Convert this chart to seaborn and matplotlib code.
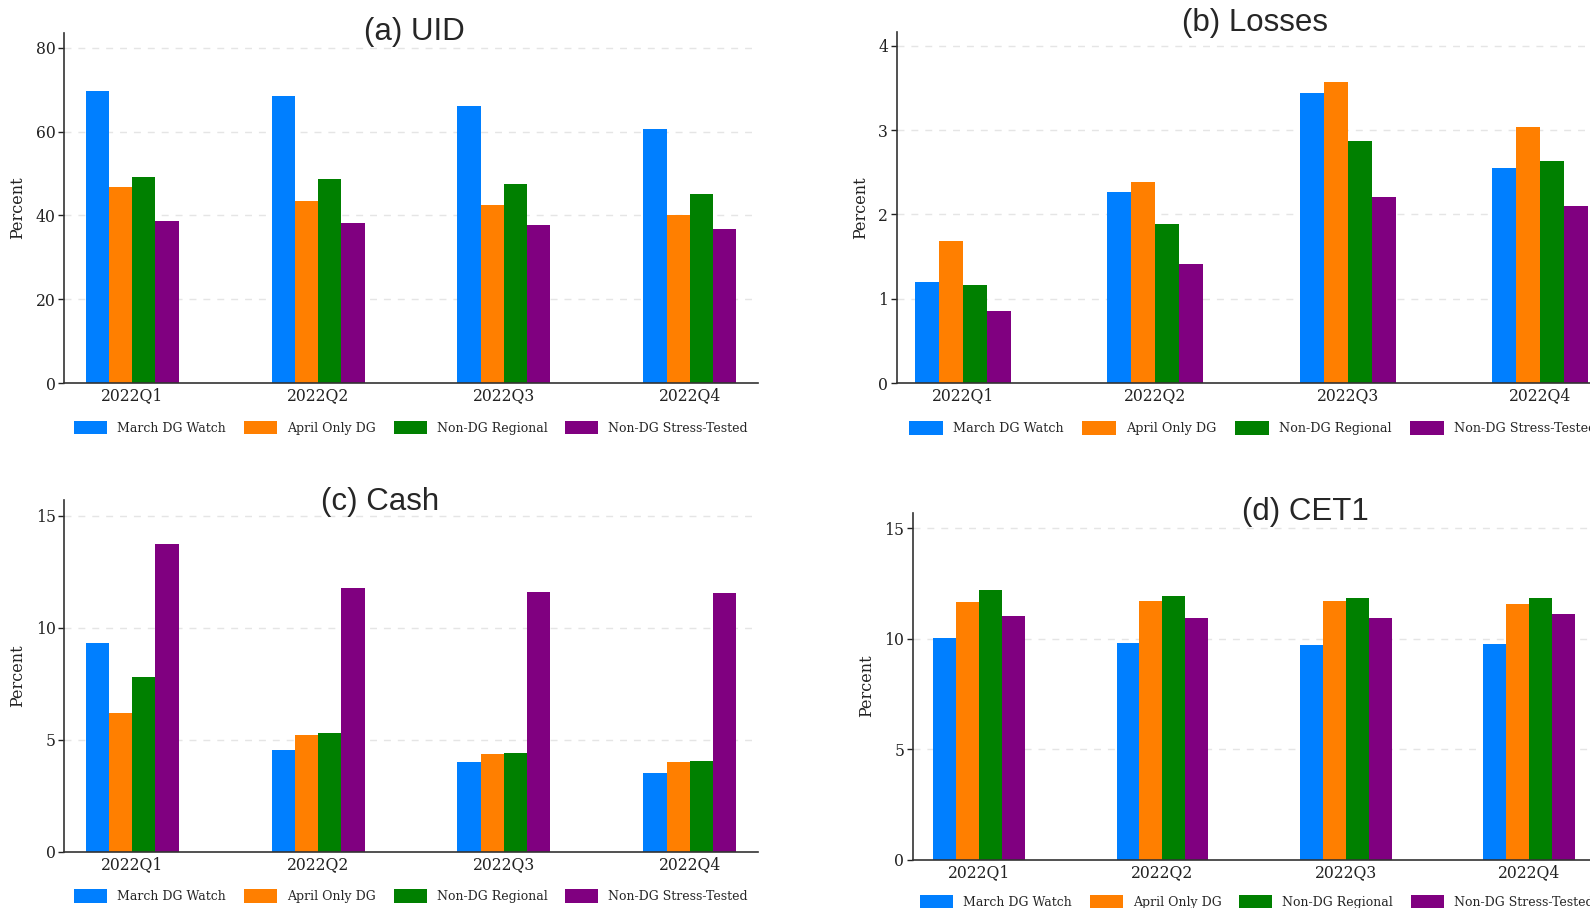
import matplotlib
matplotlib.use("Agg")
import matplotlib.pyplot as plt
import seaborn as sns
import pandas as pd

quarters = ["2022Q1", "2022Q2", "2022Q3", "2022Q4"]
groups = ["March DG Watch", "April Only DG", "Non-DG Regional", "Non-DG Stress-Tested"]
colors = ["#007FFF", "#FF7F00", "#008000", "#800080"]

# (a) UID
uid_march = [69.8, 68.6, 66.1, 60.7]
uid_april = [46.7, 43.5, 42.5, 40.1]
uid_regional = [49.1, 48.7, 47.6, 45.2]
uid_stress = [38.7, 38.1, 37.7, 36.7]

# (b) Losses
loss_march = [1.20, 2.27, 3.44, 2.55]
loss_april = [1.69, 2.39, 3.57, 3.04]
loss_regional = [1.16, 1.89, 2.87, 2.63]
loss_stress = [0.855, 1.41, 2.21, 2.10]

# (c) Cash
cash_march = [9.31, 4.54, 4.01, 3.53]
cash_april = [6.22, 5.23, 4.37, 4.00]
cash_regional = [7.80, 5.30, 4.43, 4.04]
cash_stress = [13.75, 11.78, 11.61, 11.57]

# (d) CET1
cet1_march = [10.03, 9.82, 9.73, 9.76]
cet1_april = [11.65, 11.71, 11.69, 11.56]
cet1_regional = [12.22, 11.95, 11.83, 11.86]
cet1_stress = [11.03, 10.92, 10.96, 11.14]

titles = ["(a) UID", "(b) Losses", "(c) Cash", "(d) CET1"]
yticks = [[0, 20, 40, 60, 80], [0, 1, 2, 3, 4], [0, 5, 10, 15], [0, 5, 10, 15]]


def long_frame(series):
    rows = []
    for g, vals in zip(groups, series):
        for q, v in zip(quarters, vals):
            rows.append({"Quarter": q, "Group": g, "Value": v})
    return pd.DataFrame(rows)


panels = [
    long_frame([uid_march, uid_april, uid_regional, uid_stress]),
    long_frame([loss_march, loss_april, loss_regional, loss_stress]),
    long_frame([cash_march, cash_april, cash_regional, cash_stress]),
    long_frame([cet1_march, cet1_april, cet1_regional, cet1_stress]),
]

sns.set_theme(style="white")
plt.rcParams["font.family"] = ["DejaVu Serif"]

W, H = 1590, 908
fig = plt.figure(figsize=(W / 100, H / 100), dpi=100)


def frac_rect(x0, x1, ytop, ybot):
    return [x0 / W, 1 - ybot / H, (x1 - x0) / W, (ybot - ytop) / H]


layout = [
    dict(rect=frac_rect(64, 758, 32.5, 383), xlim=(-0.366, 3.366), ylim=(0, 83.7),
         ylab=-0.054, leg=(0.5, -0.128), lfs=9, title=(414, 32)),
    dict(rect=frac_rect(896.5, 1615, 31.5, 383), xlim=(-0.345, 3.39), ylim=(0, 4.17),
         ylab=-0.038, leg=(0.496, -0.128), lfs=9.2, title=(1255, 23)),
    dict(rect=frac_rect(64, 758, 500, 852), xlim=(-0.366, 3.366), ylim=(0, 15.7),
         ylab=-0.054, leg=(0.5, -0.126), lfs=9, title=(380, 502)),
    dict(rect=frac_rect(912.6, 1597, 512.5, 859.5), xlim=(-0.362, 3.37), ylim=(0, 15.72),
         ylab=-0.055, leg=(0.503, -0.122), lfs=9, title=(1305, 512)),
]

for df, lay, ttl, yt in zip(panels, layout, titles, yticks):
    ax = fig.add_axes(lay["rect"])
    sns.barplot(data=df, x="Quarter", y="Value", hue="Group", hue_order=groups,
                order=quarters, palette=colors, width=0.5, gap=0, ax=ax,
                linewidth=0, saturation=1, errorbar=None)
    ax.set_xlim(*lay["xlim"])
    ax.set_ylim(*lay["ylim"])
    ax.set_yticks(yt)
    ax.set_xlabel("")
    ax.set_ylabel("Percent", fontsize=11.5, color="#222222")
    ax.yaxis.set_label_coords(lay["ylab"], 0.5)
    for s in ["top", "right"]:
        ax.spines[s].set_visible(False)
    for s in ["left", "bottom"]:
        ax.spines[s].set_color("#333333")
        ax.spines[s].set_linewidth(1.2)
    ax.tick_params(axis="x", length=0, pad=3, labelsize=12.5, colors="#222222")
    ax.tick_params(axis="y", length=4, width=1, pad=2, labelsize=12.5,
                   colors="#222222", left=True)
    for lbl in ax.get_xticklabels() + ax.get_yticklabels():
        lbl.set_fontstretch("condensed")
    for t in yt[1:]:
        ax.axhline(t, color="#e5e5e5", lw=1, ls=(0, (5, 5)), zorder=0)
    handles, labels = ax.get_legend_handles_labels()
    ax.legend(handles, labels, loc="center", bbox_to_anchor=lay["leg"],
              ncol=4, frameon=False, fontsize=lay["lfs"], handlelength=2.64,
              handleheight=1.3, handletextpad=0.8, columnspacing=1.44)
    fig.text(lay["title"][0] / W, 1 - lay["title"][1] / H, ttl,
             ha="center", va="center", fontsize=22.5, color="#262626",
             family=["Liberation Sans", "DejaVu Sans"])

fig.savefig("out.png", dpi=100)
